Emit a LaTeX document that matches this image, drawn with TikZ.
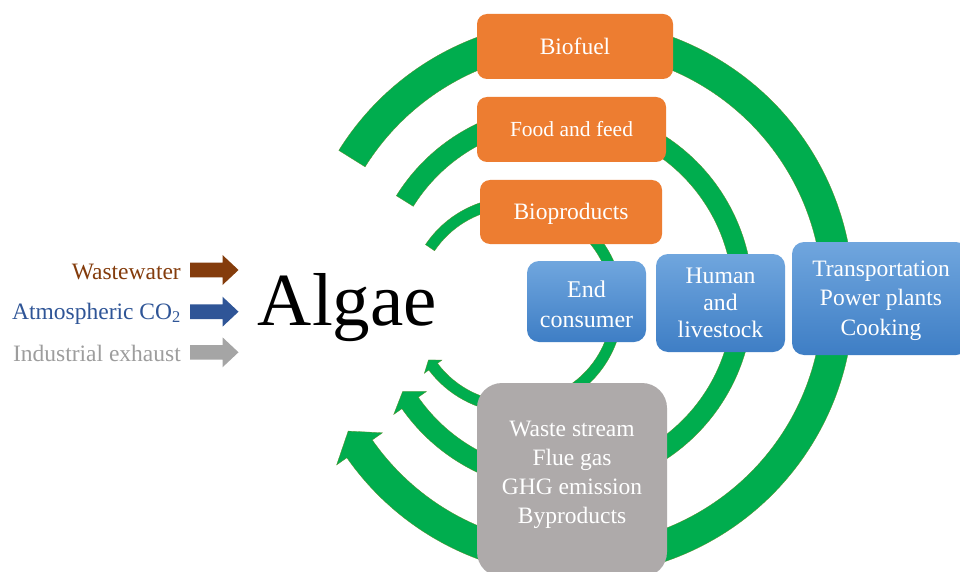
\documentclass[tikz,border=0pt]{standalone}
\usepackage{fontspec}
\setmainfont{Liberation Serif}
\definecolor{arcgreen}{RGB}{0,173,78}
\definecolor{arcedge}{RGB}{90,140,40}
\definecolor{boxorange}{RGB}{237,125,49}
\definecolor{boxgray}{RGB}{174,170,170}
\definecolor{bluetop}{RGB}{112,166,222}
\definecolor{bluebot}{RGB}{62,126,197}
\definecolor{wwbrown}{RGB}{132,60,12}
\definecolor{co2blue}{RGB}{47,85,151}
\definecolor{exgray}{RGB}{165,165,165}
\newcommand{\greenloop}[8]{%
  \begin{scope}[shift={(#1,-#2)}]
    \filldraw[loopfill] ({#5}:{#3+#4}) arc[start angle=#5, end angle=#6, radius={#3+#4}]
      -- ({#6}:{#3+#7}) -- ({#8}:{#3}) -- ({#6}:{#3-#7}) -- ({#6}:{#3-#4})
      arc[start angle=#6, end angle=#5, radius={#3-#4}] -- cycle;
  \end{scope}}
\newcommand{\blockarrow}[2]{%
  \fill[#2] (190,{-#1+7.3}) -- (222.5,{-#1+7.3}) -- (222.5,{-#1+15}) -- (238.5,-#1)
    -- (222.5,{-#1-15}) -- (222.5,{-#1-7.3}) -- (190,{-#1-7.3}) -- cycle;}
\begin{document}
\begin{tikzpicture}[x=1pt,y=1pt,
  loopfill/.style={fill=arcgreen, draw=arcedge, line width=0.3pt},
  orangebox/.style={fill=boxorange, rounded corners=10pt, text=white, inner sep=0pt, align=center, text height=15.5pt, text depth=0pt, font=\fontsize{23.5}{29}\selectfont},
  bluebox/.style={top color=bluetop, bottom color=bluebot, rounded corners=12pt, text=white, inner sep=0pt, align=center},
  boxtext/.style={text=white, align=center, inner sep=0pt},
  graybox/.style={fill=boxgray, rounded corners=25pt, inner sep=0pt},
  srclabel/.style={anchor=base east, inner sep=0pt, font=\fontsize{23.5}{28}\selectfont}]
\useasboundingbox (0,0) rectangle (960,-572);
\fill[white] (0,0) rectangle (960,-572);

% green cycle arrows
\greenloop{575}{298}{263}{15.5}{148}{-145}{28}{-149.6}
\greenloop{560}{298}{183}{10}{148}{-145}{20}{-149.3}
\greenloop{515}{305}{102.5}{5.5}{146}{-143}{11}{-147.6}

% product boxes
\node[orangebox, minimum width=196pt, minimum height=65pt] (biofuel) at (575,-46.5) {Biofuel};
\node[orangebox, minimum width=189pt, minimum height=65pt, text height=14.2pt, font=\fontsize{21.5}{26}\selectfont] (food) at (571.5,-129.5) {Food and feed};
\node[orangebox, minimum width=182pt, minimum height=64pt] (bioprod) at (571,-212) {Bioproducts};

% consumer boxes
\node[bluebox, minimum width=119pt, minimum height=81pt] (endcons) at (586.5,-301.5) {};
\node[boxtext, font=\fontsize{24}{30}\selectfont] (endtext) at (586.5,-304) {End\\consumer};
\node[bluebox, minimum width=129pt, minimum height=98pt, font=\fontsize{23.7}{26.7}\selectfont] (human) at (720.5,-303) {Human\\and\\livestock};
\node[bluebox, minimum width=176pt, minimum height=113pt] (transport) at (880,-298.5) {};
\node[boxtext, font=\fontsize{23.5}{29.5}\selectfont] (transtext) at (881,-300.5) {Transportation\\Power plants\\Cooking};

% waste box
\node[graybox, minimum width=190pt, minimum height=194pt] (waste) at (572,-480) {};
\node[boxtext, font=\fontsize{23.5}{29}\selectfont] (wastetext) at (572,-474.5) {Waste stream\\Flue gas\\GHG emission\\Byproducts};

% Algae and inputs
\node[anchor=base, inner sep=0pt, font=\fontsize{75}{80}\selectfont] (algae) at (347.4,-325) {Algae};
\node[srclabel, text=wwbrown] (ww) at (181,-279) {Wastewater};
\node[srclabel, text=co2blue] (co2) at (181,-319) {Atmospheric CO\textsubscript{2}};
\node[srclabel, text=exgray!95!black] (exh) at (181,-361) {Industrial exhaust};
\blockarrow{270}{wwbrown}
\blockarrow{311.7}{co2blue}
\blockarrow{352.3}{exgray}
\end{tikzpicture}
\end{document}
